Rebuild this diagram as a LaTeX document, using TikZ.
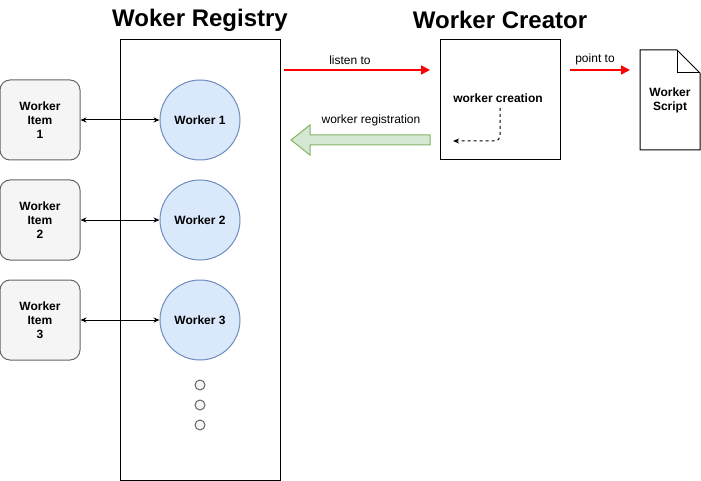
\documentclass[tikz,border=0pt]{standalone}
\usepackage{fontspec}
\setmainfont{Liberation Sans}
\usetikzlibrary{arrows.meta,shapes,positioning}
\definecolor{wfill}{HTML}{DAE8FC}
\definecolor{wdraw}{HTML}{6C8EBF}
\definecolor{ifill}{HTML}{F5F5F5}
\definecolor{idraw}{HTML}{666666}
\definecolor{gfill}{HTML}{D5E8D4}
\definecolor{gdraw}{HTML}{82B366}
\begin{document}
\begin{tikzpicture}[x=1pt,y=-1pt,line width=1pt,font=\fontsize{12}{14}\selectfont,
                   worker/.style={shape=circle,draw=wdraw,fill=wfill,minimum size=80pt,inner sep=0pt,font=\fontsize{12}{14}\selectfont\bfseries},
                   item/.style={rectangle,rounded corners=10pt,draw=idraw,fill=ifill,minimum size=80pt,inner sep=0pt,align=center,font=\fontsize{12}{14}\selectfont\bfseries},
                   dot/.style={shape=circle,draw=idraw,fill=ifill,minimum size=10pt,inner sep=0pt},
                   title/.style={font=\fontsize{24}{27}\selectfont\bfseries},
                   redarrow/.style={draw=red,line width=1.6pt,-{Triangle[length=9pt,width=9pt]}},
                   both/.style={<->,>={Stealth[length=6pt,width=5pt]}}]
\useasboundingbox (0,0) rectangle (701,481);
% registry and creator
\node[draw,rectangle,minimum width=160pt,minimum height=440pt,inner sep=0pt] (registry) at (200,260) {};
\node[title] (regtitle) at (200,20) {Woker Registry};
\node[draw,rectangle,minimum size=120pt,inner sep=0pt] (creator) at (500,100) {};
\node[title] (cretitle) at (500,20) {Worker Creator};
\node[font=\fontsize{12}{14}\selectfont\bfseries] (creation) at (498,98) {worker creation};
\coordinate (dashtop) at (500,108);
\coordinate (dashend) at (453,141);
\draw[dashed,rounded corners=5pt,-{Stealth[length=6pt,width=5pt]}] (dashtop) |- (dashend);
% worker script document
\draw (640,50) -- (677,50) -- (700,73) -- (700,150) -- (640,150) -- cycle;
\draw (677,50) -- (677,73) -- (700,73);
\node[align=center,font=\fontsize{12}{14}\selectfont\bfseries] (script) at (670,100) {Worker\\Script};
% workers and items
\foreach \i in {1,2,3}{
  \node[worker] (w\i) at (200,20+100*\i) {Worker \i};
  \node[item] (it\i) at (40,20+100*\i) {Worker\\Item\\\i};
  \draw[both] (it\i.east) -- (w\i.west);
}
\foreach \j in {1,2,3}
  \node[dot] (d\j) at (200,365+20*\j) {};
% arrows between blocks
\coordinate (lstart) at (284,70);
\coordinate (lend) at (430,70);
\draw[redarrow] (lstart) -- node[above=1pt,xshift=-7pt,text=black] {listen to} (lend);
\coordinate (pstart) at (570,70);
\coordinate (pend) at (630,70);
\draw[redarrow] (pstart) -- node[above=1pt,xshift=-5pt,text=black] {point to} (pend);
\draw[draw=gdraw,fill=gfill] (430,135) -- (310,135) -- (310,125) -- (291,140) -- (310,155) -- (310,145) -- (430,145) -- cycle;
\node (reglabel) at (371,120) {worker registration};
\end{tikzpicture}
\end{document}
